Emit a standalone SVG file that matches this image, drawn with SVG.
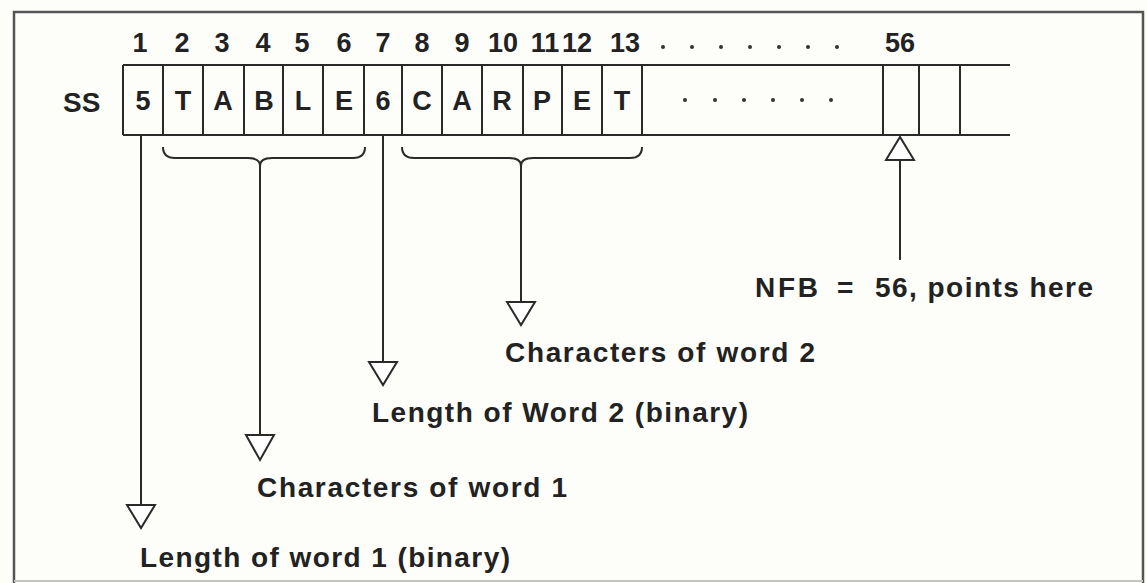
<svg xmlns="http://www.w3.org/2000/svg" width="1147" height="583" viewBox="0 0 1147 583">
<defs>
<style>
text{font-family:"Liberation Sans",Arial,sans-serif;font-weight:bold;fill:#222;}
.num{font-size:27px;text-anchor:middle;}
.cell{font-size:27px;text-anchor:middle;}
.lbl{font-size:28px;}
.ln{stroke:#2a2a2a;stroke-width:2;fill:none;}
.fr{stroke:#555;stroke-width:2.5;fill:none;}
.tri{stroke:#2a2a2a;stroke-width:2;fill:#fff;stroke-linejoin:miter;}
.dot{fill:#333;}
</style>
</defs>
<rect width="1147" height="583" fill="#fdfdfa"/>
<g id="frame">
<path class="fr" d="M14,583 V12 H1143 V583"/>
<line x1="14" y1="581" x2="1143" y2="581" stroke="#c4c4c4" stroke-width="2"/>
</g>
<g id="indices">
<text class="num" x="140" y="52">1</text>
<text class="num" x="182" y="52">2</text>
<text class="num" x="222" y="52">3</text>
<text class="num" x="263" y="52">4</text>
<text class="num" x="302" y="52">5</text>
<text class="num" x="344" y="52">6</text>
<text class="num" x="383" y="52">7</text>
<text class="num" x="422" y="52">8</text>
<text class="num" x="462" y="52">9</text>
<text class="num" x="503" y="52">10</text>
<text class="num" x="545" y="52">11</text>
<text class="num" x="577" y="52">12</text>
<text class="num" x="625" y="52">13</text>
<circle class="dot" cx="663" cy="47" r="2"/>
<circle class="dot" cx="692" cy="47" r="2"/>
<circle class="dot" cx="721" cy="47" r="2"/>
<circle class="dot" cx="750" cy="47" r="2"/>
<circle class="dot" cx="779" cy="47" r="2"/>
<circle class="dot" cx="808" cy="47" r="2"/>
<circle class="dot" cx="837" cy="47" r="2"/>
<text class="num" x="900" y="52">56</text>
</g>
<g id="ss-array">
<text class="lbl" x="63" y="112">SS</text>
<path class="ln" d="M123,65 H1010 M123,135 H1010 M123,65 V135 M163,65 V135 M203,65 V135 M244,65 V135 M283,65 V135 M323,65 V135 M364,65 V135 M402,65 V135 M442,65 V135 M482,65 V135 M523,65 V135 M562,65 V135 M602,65 V135 M642,65 V135 M883,65 V135 M919,65 V135 M960,65 V135"/>
<text class="cell" x="143" y="110">5</text>
<text class="cell" x="183" y="110">T</text>
<text class="cell" x="223" y="110">A</text>
<text class="cell" x="264" y="110">B</text>
<text class="cell" x="303" y="110">L</text>
<text class="cell" x="344" y="110">E</text>
<text class="cell" x="383" y="110">6</text>
<text class="cell" x="422" y="110">C</text>
<text class="cell" x="462" y="110">A</text>
<text class="cell" x="502" y="110">R</text>
<text class="cell" x="542" y="110">P</text>
<text class="cell" x="582" y="110">E</text>
<text class="cell" x="622" y="110">T</text>
<circle class="dot" cx="685" cy="100" r="2"/>
<circle class="dot" cx="715" cy="100" r="2"/>
<circle class="dot" cx="744" cy="100" r="2"/>
<circle class="dot" cx="773" cy="100" r="2"/>
<circle class="dot" cx="802" cy="100" r="2"/>
<circle class="dot" cx="831" cy="100" r="2"/>
</g>
<g id="connectors">
<path class="ln" d="M163,147 Q163,158 175,158 H248 Q260,158 260,166 Q260,158 272,158 H353 Q365,158 365,147"/>
<path class="ln" d="M402,147 Q402,158 414,158 H509 Q521,158 521,166 Q521,158 533,158 H630 Q642,158 642,147"/>
<line class="ln" x1="141" y1="135" x2="141" y2="505"/>
<polygon class="tri" points="127,505 155,505 141,528"/>
<line class="ln" x1="260" y1="165" x2="260" y2="435"/>
<polygon class="tri" points="246,435 274,435 260,460"/>
<line class="ln" x1="383" y1="135" x2="383" y2="362"/>
<polygon class="tri" points="369,362 397,362 383,385"/>
<line class="ln" x1="521" y1="165" x2="521" y2="302"/>
<polygon class="tri" points="507,302 535,302 521,325"/>
<line class="ln" x1="900" y1="260" x2="900" y2="160"/>
<polygon class="tri" points="886,160 914,160 900,137"/>
</g>
<g id="labels">
<text class="lbl" y="297"><tspan x="755" textLength="63" lengthAdjust="spacing">NFB</tspan><tspan x="837">=</tspan><tspan x="875" textLength="218" lengthAdjust="spacing">56, points here</tspan></text>
<text class="lbl" x="505" y="362" textLength="310" lengthAdjust="spacing">Characters of word 2</text>
<text class="lbl" x="372" y="422" textLength="376" lengthAdjust="spacing">Length of Word 2 (binary)</text>
<text class="lbl" x="257" y="497" textLength="310" lengthAdjust="spacing">Characters of word 1</text>
<text class="lbl" x="140" y="567" textLength="370" lengthAdjust="spacing">Length of word 1 (binary)</text>
</g>
</svg>
